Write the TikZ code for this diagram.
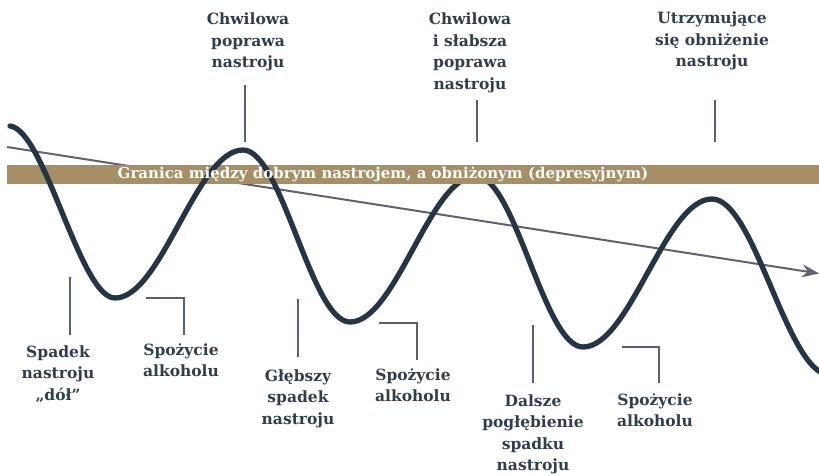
\documentclass[tikz,border=0pt]{standalone}
\usepackage{fontspec}
\setmainfont{DejaVu Serif}
\usetikzlibrary{arrows.meta}
\definecolor{wavec}{HTML}{243646}
\definecolor{bandc}{HTML}{A68F65}
\definecolor{trendc}{HTML}{606272}
\definecolor{lblc}{HTML}{2F3E4E}
\definecolor{leadc}{HTML}{56626F}
\tikzset{
  lab/.style={font=\bfseries\fontsize{15.5}{21.5}\selectfont, text=lblc, align=center, inner sep=0pt, anchor=base},
  leader/.style={draw=leadc, line width=1.3pt},
  wavestyle/.style={draw=wavec, line width=5.3pt, line cap=round},
  bandfill/.style={fill=bandc, draw=none},
  trendline/.style={draw=trendc, line width=2pt, -{Stealth[length=17pt,width=13pt]}},
}
\begin{document}
\begin{tikzpicture}[x=1pt,y=-1pt]
\useasboundingbox (0,0) rectangle (819,476);
\clip (0,0) rectangle (819,476);

% trend arrow
\coordinate (tstart) at (7,147);
\coordinate (tend) at (819,273.5);
\draw[trendline] (tstart) -- (tend);

% band
\fill[bandfill] (7,164.5) rectangle (819,183.5);

% wave
\draw[wavestyle] (10,126) .. controls (45,130) and (80,298) .. (115,298)
 .. controls (161.5,298) and (196.5,150) .. (243,150)
 .. controls (282,150) and (311,322) .. (350,322)
 .. controls (396,322) and (430,176) .. (476,176)
 .. controls (515,176) and (544,347) .. (583,347)
 .. controls (630,347) and (665,199) .. (712,199)
 .. controls (755,199) and (787,375) .. (830,375);

% band patch over second peak
\fill[bandfill] (430,164.5) rectangle (530,183.5);

\node[font=\bfseries\fontsize{15}{17}\selectfont, text=white, inner sep=0pt, anchor=base] (bandtext) at (383,178.5)
  {Granica między dobrym nastrojem, a obniżonym (depresyjnym)};

% top labels (anchor base = baseline of last line)
\node[lab] (t1) at (248,68) {Chwilowa\\poprawa\\nastroju};
\node[lab] (t2) at (470,89.5) {Chwilowa\\i słabsza\\poprawa\\nastroju};
\node[lab] (t3) at (712,67) {Utrzymujące\\się obniżenie\\nastroju};

\coordinate (t1a) at (245,85);  \coordinate (t1b) at (245,142);
\coordinate (t2a) at (477,100); \coordinate (t2b) at (477,142);
\coordinate (t3a) at (715,100); \coordinate (t3b) at (715,142);
\draw[leader] (t1a) -- (t1b);
\draw[leader] (t2a) -- (t2b);
\draw[leader] (t3a) -- (t3b);

% bottom labels
\node[lab] (b1) at (58,400) {Spadek\\nastroju\\„dół”};
\node[lab] (b2) at (181,376.5) {Spożycie\\alkoholu};
\node[lab] (b3) at (298,424) {Głębszy\\spadek\\nastroju};
\node[lab] (b4) at (413,401.5) {Spożycie\\alkoholu};
\node[lab] (b5) at (533,470.5) {Dalsze\\pogłębienie\\spadku\\nastroju};
\node[lab] (b6) at (655,426.5) {Spożycie\\alkoholu};

\coordinate (b1a) at (70,277);  \coordinate (b1b) at (70,335);
\draw[leader] (b1a) -- (b1b);
\coordinate (b2a) at (146,298); \coordinate (b2c) at (184,298); \coordinate (b2b) at (184,335);
\draw[leader] (b2a) -- (b2c) -- (b2b);
\coordinate (b3a) at (298,299); \coordinate (b3b) at (298,357);
\draw[leader] (b3a) -- (b3b);
\coordinate (b4a) at (379,323); \coordinate (b4c) at (417,323); \coordinate (b4b) at (417,360);
\draw[leader] (b4a) -- (b4c) -- (b4b);
\coordinate (b5a) at (533,325); \coordinate (b5b) at (533,383);
\draw[leader] (b5a) -- (b5b);
\coordinate (b6a) at (622,347); \coordinate (b6c) at (659,347); \coordinate (b6b) at (659,383);
\draw[leader] (b6a) -- (b6c) -- (b6b);
\end{tikzpicture}
\end{document}
